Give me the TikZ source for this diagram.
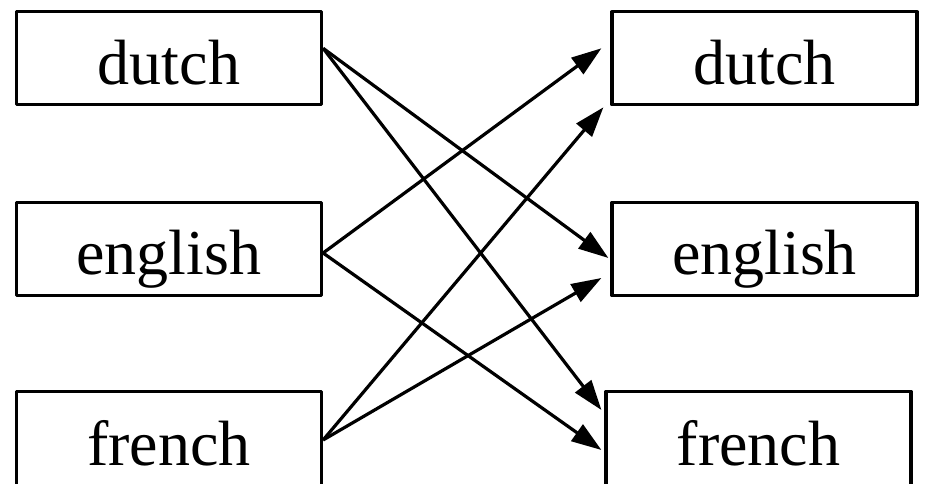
\documentclass[tikz,border=0pt]{standalone}
\usepackage{fontspec}
\setmainfont{Liberation Serif}
\usetikzlibrary{arrows.meta,positioning}

\begin{document}
\begin{tikzpicture}[x=1pt,y=1pt,>={Triangle[length=30pt,width=20pt]},line join=round]
\tikzset{
 langbox/.style={draw,line width=3.2pt,minimum width=305pt,minimum height=93pt,
 font=\fontsize{64}{70}\selectfont,text height=60pt,text depth=8pt,inner sep=0pt},
 lowbox/.style={langbox,minimum height=97pt},
 langarrow/.style={->,line width=3.2pt}
}
\useasboundingbox (0,0) rectangle (926,484);
% source column
\node[langbox] (srcdutch) at (169,425.7) {dutch};
\node[langbox] (srcenglish) at (169,235) {english};
\node[lowbox] (srcfrench) at (169,44) {french};
% target column
\node[langbox] (tgtdutch) at (764.5,425.7) {dutch};
\node[langbox] (tgtenglish) at (764.5,235) {english};
\node[lowbox] (tgtfrench) at (758.5,44) {french};
% translations
\draw[langarrow] ([yshift=10pt]srcdutch.east) -- ([xshift=-2pt,yshift=-9pt]tgtenglish.west);
\draw[langarrow] ([yshift=10pt]srcdutch.east) -- ([xshift=-3pt,yshift=30pt]tgtfrench.west);
\draw[langarrow] ([yshift=-4pt]srcenglish.east) -- ([xshift=-9pt,yshift=10pt]tgtdutch.west);
\draw[langarrow] ([yshift=-4pt]srcenglish.east) -- ([xshift=-3pt,yshift=-10pt]tgtfrench.west);
\draw[langarrow] ([yshift=0pt]srcfrench.east) -- ([xshift=-7pt,yshift=-49pt]tgtdutch.west);
\draw[langarrow] ([yshift=0pt]srcfrench.east) -- ([xshift=-9pt,yshift=-29pt]tgtenglish.west);
\end{tikzpicture}
\end{document}
